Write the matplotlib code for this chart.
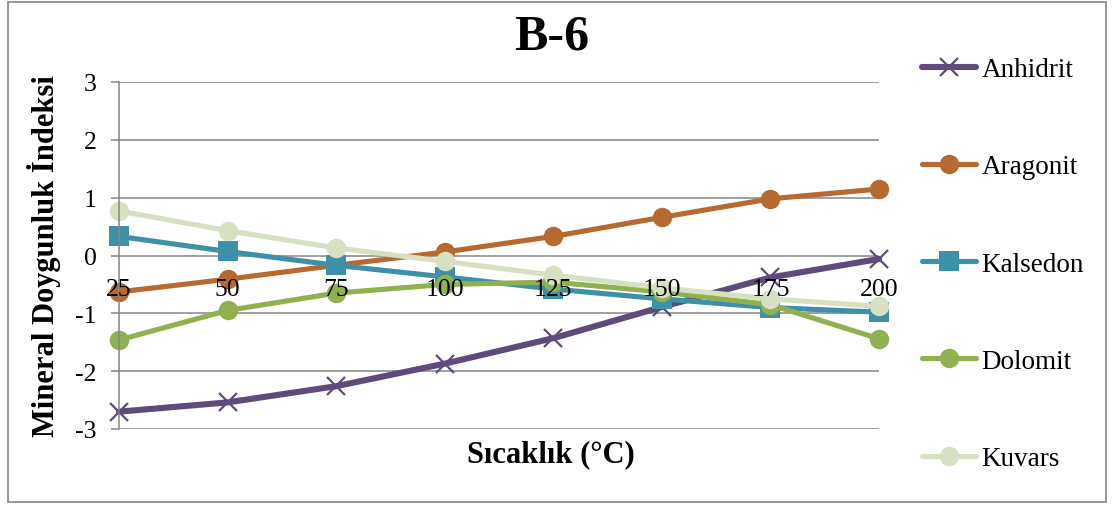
import matplotlib
matplotlib.use("Agg")
import matplotlib.pyplot as plt
from matplotlib.patches import Rectangle

plt.rcParams['font.family'] = ['Liberation Serif', 'DejaVu Serif']
plt.rcParams['axes.unicode_minus'] = False

# Sıcaklık kategorileri (°C)
temps = ["25", "50", "75", "100", "125", "150", "175", "200"]

# Doygunluk indeksleri
anhidrit = [-2.70, -2.54, -2.26, -1.87, -1.43, -0.89, -0.38, -0.06]
aragonit = [-0.63, -0.41, -0.17, 0.06, 0.33, 0.66, 0.98, 1.15]
kalsedon = [0.33, 0.07, -0.17, -0.37, -0.58, -0.75, -0.90, -0.98]
dolomit = [-1.46, -0.95, -0.65, -0.50, -0.46, -0.63, -0.85, -1.44]
kuvars = [0.77, 0.43, 0.13, -0.10, -0.34, -0.56, -0.75, -0.88]

series = [
    ("Anhidrit", anhidrit, "#604A7B", "x", 4.4),
    ("Aragonit", aragonit, "#B76A30", "o", 3.7),
    ("Kalsedon", kalsedon, "#3E8FA8", "s", 3.7),
    ("Dolomit", dolomit, "#8FB150", "o", 3.7),
    ("Kuvars", kuvars, "#D5E1C0", "o", 3.7),
]

fig = plt.figure(figsize=(11.12, 5.06), dpi=100)
ax = fig.add_axes([119 / 1112, 76 / 506, 760 / 1112, 347 / 506])

x = list(range(len(temps)))
handles = []
for name, vals, color, marker, lw in series:
    if marker == "x":
        ln, = ax.plot(x, vals, color=color, lw=lw, marker="x", markersize=12.5,
                      markeredgewidth=1.6, solid_capstyle="round",
                      solid_joinstyle="round", label=name, zorder=2, clip_on=False)
    else:
        ln, = ax.plot(x, vals, color=color, lw=lw, marker=marker, markersize=14,
                      markeredgewidth=0, solid_capstyle="round",
                      solid_joinstyle="round", label=name, zorder=2, clip_on=False)
    handles.append(ln)

ax.set_xlim(0, len(temps) - 1)
ax.set_ylim(-3, 3)
ax.set_yticks(range(-3, 4))
ax.yaxis.grid(True, color="#868686", lw=1.1)
ax.set_axisbelow(True)

# kategori ekseni sıfır çizgisinde, etiketler çizgilerin üstünde
ax.spines['bottom'].set_position(('data', 0))
ax.spines['bottom'].set_visible(False)
ax.spines['top'].set_visible(False)
ax.spines['right'].set_visible(False)
ax.spines['left'].set_color("#868686")
ax.spines['left'].set_linewidth(1.1)
ax.set_xticks(x)
ax.set_xticklabels(temps)
ax.xaxis.set_zorder(5)
ax.tick_params(axis='x', length=0, pad=16, labelsize=18.5)
ax.tick_params(axis='y', direction='out', length=6, width=1.1, color="#868686",
               pad=10, labelsize=18.5)

fig.text(552 / 1112, 1 - 38 / 506, "B-6", ha="center", va="center",
         fontsize=36, fontweight="bold")
fig.text(551 / 1112, 1 - 455 / 506, "Sıcaklık (°C)", ha="center", va="center",
         fontsize=22, fontweight="bold")
fig.text(44 / 1112, 1 - 256 / 506, "Mineral Doygunluk İndeksi", ha="center",
         va="center", rotation=90, fontsize=22, fontweight="bold")

fig.legend(handles=handles, loc="upper left", bbox_to_anchor=(922 / 1112, 1 - 58 / 506),
           frameon=False, fontsize=19.5, handlelength=2.0, handletextpad=0.2,
           labelspacing=2.67, borderpad=0, borderaxespad=0)

fig.patches.append(Rectangle((8 / 1112, 3 / 506), 1098 / 1112, 500 / 506,
                             transform=fig.transFigure, fill=False,
                             edgecolor="#868686", lw=1.2))

fig.savefig("out.png", dpi=100)
